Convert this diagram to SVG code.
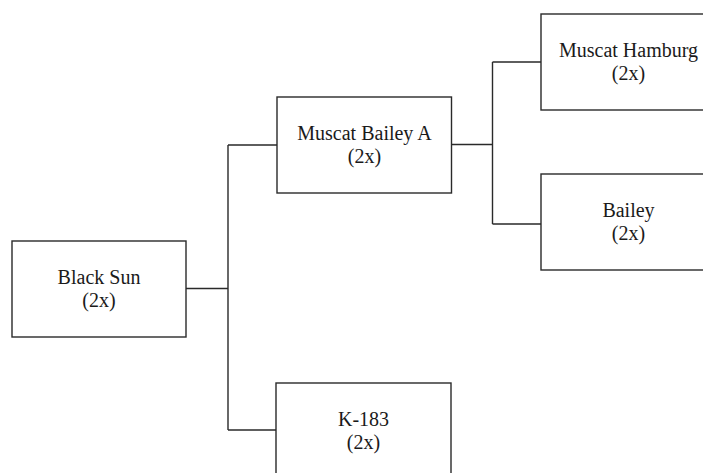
<svg xmlns="http://www.w3.org/2000/svg" width="703" height="473" viewBox="0 0 703 473">
<style>
.box{fill:#fff;stroke:#2a2a2a;stroke-width:1.4}
.t{font-family:"Liberation Serif","Times New Roman",serif;font-size:20px;fill:#1a1a1a;text-anchor:middle}
.c{fill:none;stroke:#2a2a2a;stroke-width:1.4}
</style>
<rect width="703" height="473" fill="#fff"/>
<g id="connectors">
<path class="c" d="M186,288.5H228M228,145V430M228,145H277M228,430H276"/>
<path class="c" d="M451.5,144.5H492.5M492.5,62V224M492.5,62H541M492.5,224H541"/>
</g>
<g id="black-sun">
<rect class="box" x="12" y="241" width="174" height="96"/>
<text class="t" x="99" y="284">Black Sun</text>
<text class="t" x="99" y="306.5">(2x)</text>
</g>
<g id="muscat-bailey-a">
<rect class="box" x="277" y="97" width="174.5" height="96"/>
<text class="t" x="364.5" y="140">Muscat Bailey A</text>
<text class="t" x="364.5" y="162.5">(2x)</text>
</g>
<g id="k-183">
<rect class="box" x="276" y="383" width="175" height="96"/>
<text class="t" x="363.5" y="426">K-183</text>
<text class="t" x="363.5" y="448.5">(2x)</text>
</g>
<g id="muscat-hamburg">
<rect class="box" x="541" y="14" width="175" height="96"/>
<text class="t" x="628.5" y="57">Muscat Hamburg</text>
<text class="t" x="628.5" y="79.5">(2x)</text>
</g>
<g id="bailey">
<rect class="box" x="541" y="174" width="175" height="96"/>
<text class="t" x="628.5" y="217">Bailey</text>
<text class="t" x="628.5" y="239.5">(2x)</text>
</g>
</svg>
